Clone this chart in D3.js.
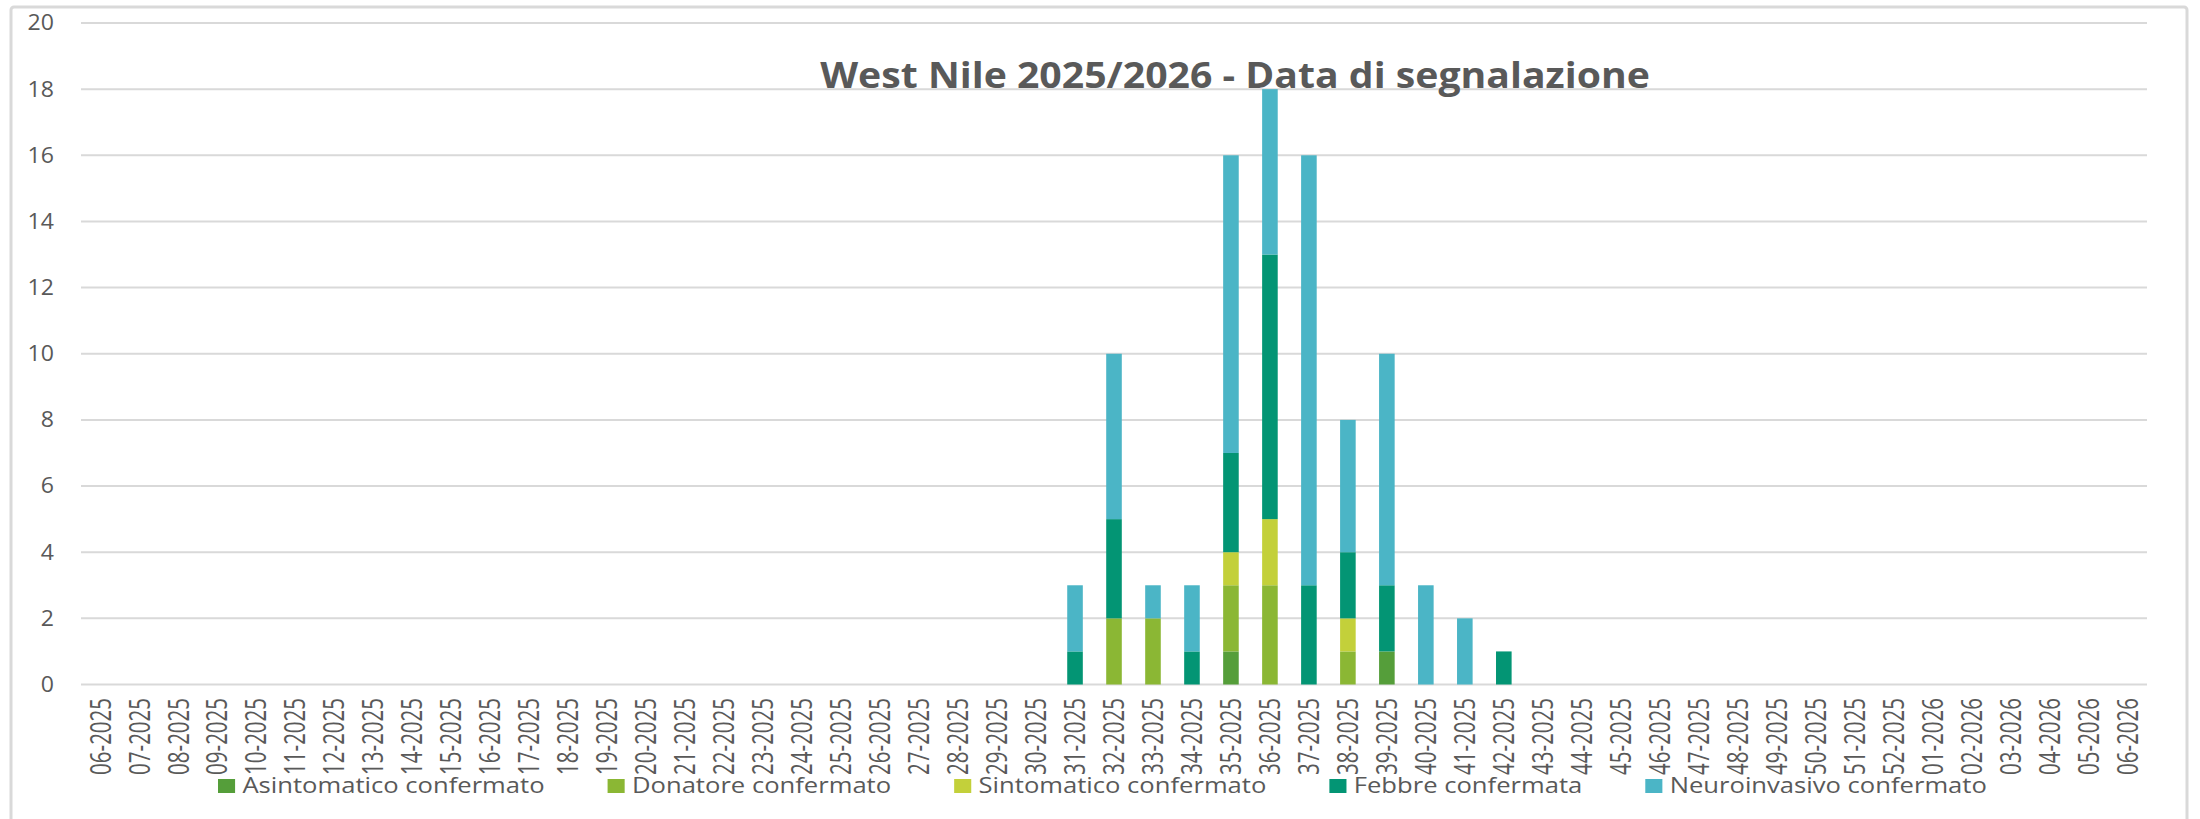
<!DOCTYPE html>
<html>
<head>
<meta charset="utf-8">
<script src="https://cdn.jsdelivr.net/npm/d3@7"></script>
<style>
  body { margin: 0; background: #fff; }
  text { font-family: 'Open Sans', sans-serif; fill: #595959; }
</style>
</head>
<body>
<svg id="chart" width="2200" height="819"></svg>
<script>
// weeks shown on the x axis
let weeks = [];
for (let w = 6; w <= 52; w++) weeks.push(String(w).padStart(2, '0') + '-2025');
for (let w = 1; w <= 6; w++) weeks.push(String(w).padStart(2, '0') + '-2026');

let series = ['Asintomatico confermato', 'Donatore confermato', 'Sintomatico confermato', 'Febbre confermata', 'Neuroinvasivo confermato'];
let colors = ['#559e3a', '#8bb734', '#c3d03a', '#039574', '#4bb5c6'];

// only weeks with cases, all others are 0
let caseWeeks    = ['31-2025', '32-2025', '33-2025', '34-2025', '35-2025', '36-2025', '37-2025', '38-2025', '39-2025', '40-2025', '41-2025', '42-2025'];
let asintomatico = [0, 0, 0, 0, 1, 0, 0, 0, 1, 0, 0, 0];
let donatore     = [0, 2, 2, 0, 2, 3, 0, 1, 0, 0, 0, 0];
let sintomatico  = [0, 0, 0, 0, 1, 2, 0, 1, 0, 0, 0, 0];
let febbre       = [1, 3, 0, 1, 3, 8, 3, 2, 2, 0, 0, 1];
let neuro        = [2, 5, 1, 2, 9, 5, 13, 4, 7, 3, 2, 0];

let yTicks = [0, 2, 4, 6, 8, 10, 12, 14, 16, 18, 20];
let title = 'West Nile 2025/2026 - Data di segnalazione';

let svg = d3.select('#chart');

// chart border
svg.append('rect')
    .attr('x', 11).attr('y', 7)
    .attr('width', 2176).attr('height', 830)
    .attr('rx', 3)
    .attr('fill', 'none')
    .attr('stroke', '#d9d9d9')
    .attr('stroke-width', 3);

let x = d3.scaleBand().domain(weeks).range([81, 2147]).paddingInner(0.6).paddingOuter(0.3);
let y = d3.scaleLinear().domain([0, 20]).range([684.5, 23]);

// gridlines + y labels
svg.append('g').selectAll('line')
    .data(yTicks)
    .enter().append('line')
    .attr('x1', 81).attr('x2', 2147)
    .attr('y1', d => y(d)).attr('y2', d => y(d))
    .attr('stroke', '#d9d9d9')
    .attr('stroke-width', 2);

svg.append('g').selectAll('text')
    .data(yTicks)
    .enter().append('text')
    .attr('transform', d => 'translate(54,' + y(d) + ') scale(1.1,1)')
    .attr('dy', '0.35em')
    .attr('text-anchor', 'end')
    .attr('font-size', 21)
    .text(d => d);

// build table for stacking
let table = weeks.map(function(w) {
    let row = {week: w};
    let i = caseWeeks.indexOf(w);
    let vals = [asintomatico, donatore, sintomatico, febbre, neuro];
    series.forEach(function(s, k) { row[s] = i >= 0 ? vals[k][i] : 0; });
    return row;
});
let stacked = d3.stack().keys(series)(table);

svg.append('g').selectAll('g')
    .data(stacked)
    .enter().append('g')
    .attr('fill', (d, i) => colors[i])
    .selectAll('rect')
    .data(d => d.filter(p => p[1] > p[0]))
    .enter().append('rect')
    .attr('x', d => x(d.data.week))
    .attr('width', x.bandwidth())
    .attr('y', d => y(d[1]))
    .attr('height', d => y(d[0]) - y(d[1]));

// x labels, rotated
svg.append('g').selectAll('text')
    .data(weeks)
    .enter().append('text')
    .attr('transform', d => 'translate(' + (x(d) + x.bandwidth() / 2) + ',698) rotate(-90) scale(1,1.4)')
    .attr('text-anchor', 'end')
    .attr('dy', '0.35em')
    .attr('font-size', 20.5)
    .text(d => d);

// title
svg.append('text')
    .attr('transform', 'translate(1235,88) scale(1.12,1)')
    .attr('text-anchor', 'middle')
    .attr('font-size', 35)
    .attr('font-weight', 'bold')
    .text(title);

// legend
let lx = 218, stretch = 1.22;
series.forEach(function(s, i) {
    let g = svg.append('g')
        .attr('transform', 'translate(' + lx + ',779) scale(' + stretch + ',1)');
    g.append('rect')
        .attr('width', 14).attr('height', 14)
        .attr('fill', colors[i]);
    let t = g.append('text')
        .attr('x', 20)
        .attr('y', 14)
        .attr('font-size', 21)
        .text(s);
    lx += (20 + t.node().getComputedTextLength()) * stretch + 63;
});
</script>
</body>
</html>
